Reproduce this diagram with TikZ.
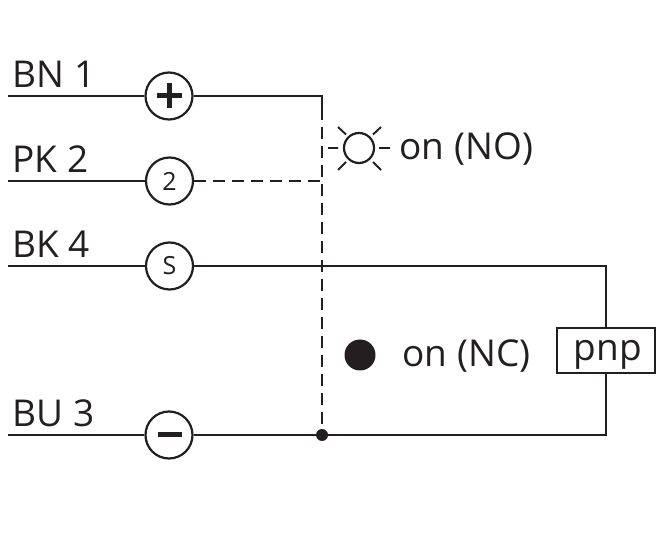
\documentclass[tikz,border=0pt]{standalone}
\usepackage{fontspec}
\setmainfont{Open Sans}
\newfontfamily\lblfont[WordSpace=1.05]{Open Sans}
\definecolor{ink}{HTML}{231F20}
\tikzset{
  x=1pt,y=-1pt,
  wire/.style={draw=ink,line width=2.2pt},
  dashwire/.style={draw=ink,line width=2.2pt,dash pattern=on 12pt off 7pt},
  term/.style={circle,draw=ink,line width=2.2pt,minimum size=47pt,inner sep=0pt,fill=white},
  termtext/.style={text=ink,font=\fontsize{25}{25}\selectfont},
  lbl/.style={text=ink,inner sep=0pt,anchor=base west,font=\lblfont\fontsize{37}{37}\selectfont},
  ray/.style={draw=ink,line width=1.9pt},
}
\begin{document}
\begin{tikzpicture}
\useasboundingbox (0,0) rectangle (662,545);
\coordinate (a1) at (8,96);
\coordinate (a2) at (8,181);
\coordinate (a4) at (8,266);
\coordinate (a3) at (8,435);
\coordinate (top) at (322,96);
\coordinate (mid) at (322,181);
\coordinate (corner) at (606,435);
\coordinate (corner2) at (606,266);
\coordinate (sdash) at (322,120);
\node[term] (t1) at (169,96) {};
\node[term,termtext] (t2) at (169.5,181) {2};
\node[term,termtext] (t4) at (169.5,266) {S};
\node[term] (t3) at (169,435) {};
\node[circle,fill=ink,minimum size=12pt,inner sep=0pt] (j) at (322,435) {};
\node[draw=ink,line width=2pt,minimum width=98pt,minimum height=45pt,inner sep=0pt] (pnp) at (606,350.5) {};
\node[text=ink,inner sep=0pt,anchor=base,font=\fontsize{37}{37}\selectfont] (pnptext) at (608,361) {pnp};
\draw[wire] (a1) -- (t1);
\draw[wire] (a2) -- (t2);
\draw[wire] (a4) -- (t4);
\draw[wire] (a3) -- (t3);
\draw[wire] (t1) -- (top) -- (sdash);
\draw[dashwire] (t2) -- (mid);
\draw[dashwire] (sdash) ++(0,7) -- (j);
\draw[wire] (t4) -- (corner2) -- (pnp);
\draw[wire] (t3) -- (j) -- (corner) -- (pnp);
\draw[line width=5pt,draw=ink] (156.5,96) -- (182,96) (169,83.5) -- (169,108.5);
\draw[line width=5pt,draw=ink] (158,435) -- (182,435);
\node[lbl] (l1) at (12,88) {BN 1};
\node[lbl] (l2) at (12,173) {PK 2};
\node[lbl] (l4) at (12,258) {BK 4};
\node[lbl] (l3) at (12,427) {BU 3};
\node[circle,draw=ink,line width=2.2pt,minimum size=30pt,inner sep=0pt] (led) at (359,148) {};
\draw[ray] (328,148) -- (338,148) (379,148) -- (390,148)
  (338,127) -- (346,134.5) (381,127) -- (373,134.5)
  (338,170) -- (346,162) (381,170) -- (373,162);
\node[lbl] (no) at (399,160) {on (NO)};
\node[circle,fill=ink,minimum size=31pt,inner sep=0pt] (nc) at (360,355) {};
\node[lbl] (nctext) at (402,366.5) {on (NC)};
\end{tikzpicture}
\end{document}
